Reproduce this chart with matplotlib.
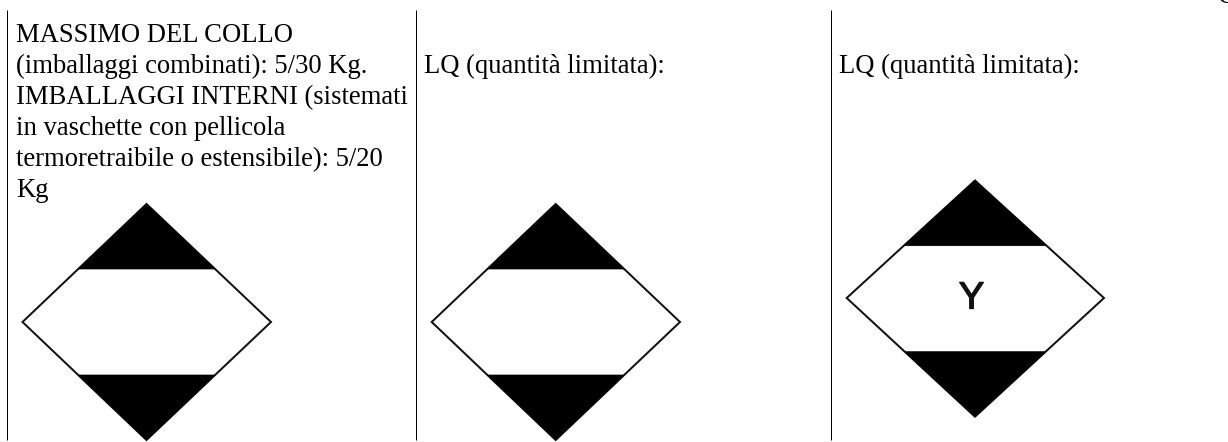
"""Three table columns with limited-quantity (LQ) diamond marks. Coordinates are image pixels."""

import matplotlib
matplotlib.use("Agg")
import matplotlib.pyplot as plt
import matplotlib.patheffects as pe
from matplotlib.patches import Polygon

W, H = 1228, 442
DPI = 100
PX = 72 / DPI  # points per pixel

col_lines_x = [7.2, 416.2, 831.2]
line_top = 10
line_bottom = 440

first_cell = [
    "MASSIMO DEL COLLO",
    "(imballaggi combinati): 5/30 Kg.",
    "IMBALLAGGI INTERNI (sistemati",
    "in vaschette con pellicola",
    "termoretraibile o estensibile): 5/20",
    "Kg",
]
first_cell_x = 16.5
first_cell_y = [42.5, 73.2, 104.0, 135.0, 166.0, 197.0]

lq_text = "LQ (quantità limitata):"
lq_x = [424.5, 839]
lq_y = 73.2

# diamonds: centre x, left, right, top, bottom, band top, band bottom
centre_x = [146.5, 555.7, 975.0]
left_x = [22.5, 431.7, 846.7]
right_x = [271.0, 680.0, 1104.0]
top_y = [204.0, 204.0, 180.5]
bottom_y = [440.0, 440.0, 416.7]
band_top = [269.0, 269.0, 245.7]
band_bottom = [375.0, 375.0, 351.7]
mid_y = [322.0, 322.0, 298.0]

SERIF = "Liberation Serif"
SIZE = 26.67 * PX


def draw_diamond(ax, i):
    cx, l, r = centre_x[i], left_x[i], right_x[i]
    t, b, m = top_y[i], bottom_y[i], mid_y[i]
    ax.add_patch(Polygon([(cx, t), (r, m), (cx, b), (l, m)], closed=True,
                         fc="white", ec="#111111", lw=2.0 * PX))
    # x of the diamond edge at the height of each band line
    up_l = l + (cx - l) * (m - band_top[i]) / (m - t)
    up_r = r - (r - cx) * (m - band_top[i]) / (m - t)
    lo_l = l + (cx - l) * (band_bottom[i] - m) / (b - m)
    lo_r = r - (r - cx) * (band_bottom[i] - m) / (b - m)
    ax.add_patch(Polygon([(cx, t), (up_r, band_top[i]), (up_l, band_top[i])],
                         closed=True, fc="black", ec="black", lw=0.5))
    ax.add_patch(Polygon([(cx, b), (lo_r, band_bottom[i]), (lo_l, band_bottom[i])],
                         closed=True, fc="black", ec="black", lw=0.5))


fig = plt.figure(figsize=(W / DPI, H / DPI), dpi=DPI, facecolor="white")
ax = fig.add_axes([0, 0, 1, 1])
ax.set_xlim(0, W)
ax.set_ylim(H, 0)
ax.axis("off")

for x in col_lines_x:
    ax.plot([x, x], [line_top, line_bottom], color="black", lw=1.0 * PX,
            solid_capstyle="butt")

for line, y in zip(first_cell, first_cell_y):
    ax.text(first_cell_x, y, line, family=SERIF, fontsize=SIZE, va="baseline",
            ha="left", color="black")
for x in lq_x:
    ax.text(x, lq_y, lq_text, family=SERIF, fontsize=SIZE, va="baseline",
            ha="left", color="black")

for i in range(3):
    draw_diamond(ax, i)

ax.text(971.5, 308.5, "Y", family="Liberation Sans", fontsize=38 * PX,
        va="baseline", ha="center", color="#111111",
        path_effects=[pe.withStroke(linewidth=1.3 * PX, foreground="#111111")])

# cut-off glyph in the top right corner
ax.text(1217.5, 3, "Q", family=SERIF, fontsize=SIZE, va="baseline", ha="left",
        color="black", clip_on=True)

fig.savefig("out.png", dpi=DPI)
